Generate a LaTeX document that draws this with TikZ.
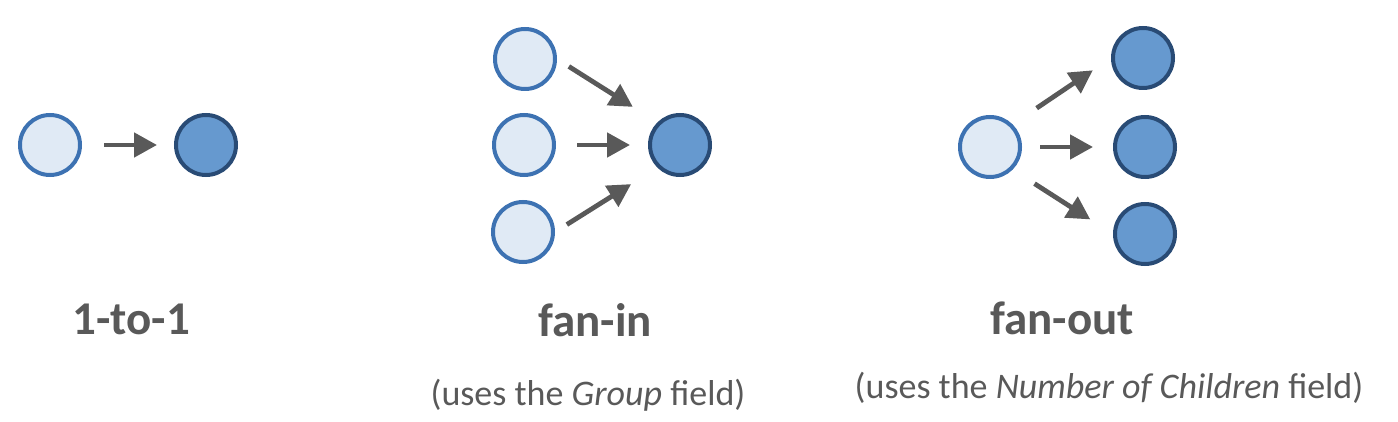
\documentclass[tikz,border=0pt]{standalone}
\usepackage{fontspec}
\setmainfont{Carlito}
\usepackage{xcolor}
\usetikzlibrary{arrows.meta, positioning}

\definecolor{srcfill}{HTML}{E0EAF5}
\definecolor{srcline}{HTML}{3D72B2}
\definecolor{dstfill}{HTML}{6699CF}
\definecolor{dstline}{HTML}{294B75}
\definecolor{flowgray}{HTML}{595959}

\begin{document}
\begin{tikzpicture}[
      x=0.5pt, y=-0.5pt,
      src/.style={circle, draw=srcline, fill=srcfill, line width=2pt, minimum size=30pt, inner sep=0pt},
      dst/.style={circle, draw=dstline, fill=dstfill, line width=2pt, minimum size=30pt, inner sep=0pt},
      flow/.style={draw=flowgray, line width=2.4pt, -{Triangle[length=11.5pt, width=12pt]}},
      title/.style={font=\fontsize{23.5}{28}\selectfont\bfseries, text=flowgray, anchor=base, inner sep=0pt},
      note/.style={font=\fontsize{18}{22}\selectfont, text=flowgray, anchor=base, inner sep=0pt}
    ]
      \useasboundingbox (0,0) rectangle (1398,422);

      % 1-to-1
      \node[src] (a1) at (50,145) {};
      \node[dst] (a2) at (206,145) {};
      \draw[flow, shorten <=11pt, shorten >=8.5pt] (a1) -- (a2);
      \node[title] (t1) at (131,335) {1-to-1};

      % fan-in
      \node[src] (b1) at (525,59) {};
      \node[src] (b2) at (524,145) {};
      \node[src] (b3) at (523,232) {};
      \node[dst] (b4) at (680,145) {};
      \draw[flow, shorten <=7pt, shorten >=14.5pt] (b1.east) -- (b4.north west);
      \draw[flow, shorten <=10.5pt, shorten >=9pt] (b2) -- (b4);
      \draw[flow, shorten <=7pt, shorten >=15.5pt] (b3.east) -- (b4.south west);
      \node[title] (t2) at (595,336) {fan-in};
      \node[note] (n2) at (588,405) {(uses the \textit{Group} field)};

      % fan-out
      \node[src] (c1) at (990,147) {};
      \node[dst] (c2) at (1143,58) {};
      \node[dst] (c3) at (1145,147) {};
      \node[dst] (c4) at (1145,234) {};
      \draw[flow, shorten <=14.5pt, shorten >=11pt] (c1.north east) -- (c2.west);
      \draw[flow, shorten <=9pt, shorten >=10pt] (c1) -- (c3);
      \draw[flow, shorten <=13pt, shorten >=13.5pt] (c1.south east) -- (c4.west);
      \node[title] (t3) at (1062,335) {fan-out};
      \node[note] (n3) at (1109,398) {(uses the \textit{Number of Children} field)};
    \end{tikzpicture}
\end{document}
